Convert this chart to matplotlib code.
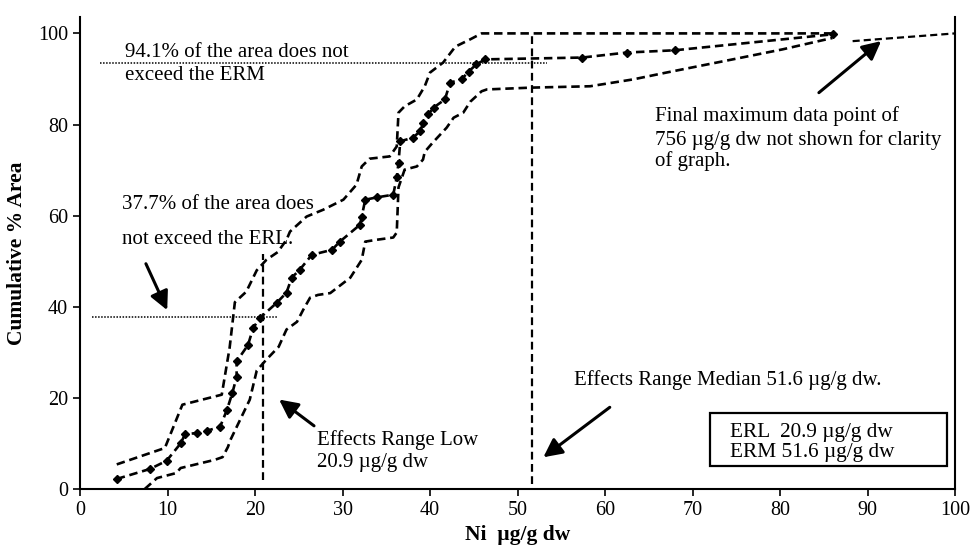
import matplotlib
matplotlib.use("Agg")
from matplotlib import pyplot as plt
from matplotlib.patches import Rectangle

## Cumulative area curve (middle) and its two bounds
mid_x = [4.2, 8.0, 9.9, 11.5, 12.0, 13.4, 14.5, 16.0, 16.8, 17.4, 17.9, 17.9, 19.2, 19.8,
         20.6, 22.5, 23.6, 24.2, 25.1, 26.5, 28.8, 29.7, 32.0, 32.2, 32.6, 33.9, 35.8,
         36.2, 36.4, 36.6, 38.0, 38.9, 39.2, 39.8, 40.4, 41.7, 42.3, 43.6, 44.4, 45.3,
         46.3, 57.4, 62.5, 68.0, 86.0]
mid_y = [2.2, 4.4, 6.2, 10.0, 12.0, 12.3, 12.8, 13.6, 17.4, 21.0, 24.6, 28.0, 31.6, 35.4,
         37.6, 40.9, 43.1, 46.4, 48.1, 51.4, 52.5, 54.3, 58.0, 59.8, 63.5, 64.0, 64.6,
         68.4, 71.6, 76.3, 77.1, 78.5, 80.4, 82.2, 83.7, 85.5, 89.2, 89.9, 91.6, 93.2,
         94.3, 94.7, 95.8, 96.3, 99.8]

up_x = [4.2, 9.7, 11.7, 16.2, 17.1, 17.7, 19.0, 20.2, 21.3, 22.6, 23.6, 24.0, 25.9, 27.8,
        30.1, 31.6, 32.2, 33.1, 35.4, 36.2, 36.4, 37.1, 38.5, 39.4, 40.0, 41.5, 42.9,
        44.6, 45.9, 86.0]
up_y = [5.4, 9.0, 18.5, 20.7, 31.0, 41.0, 43.3, 48.0, 50.3, 52.0, 54.7, 56.5, 59.8, 61.3,
        63.5, 66.8, 70.8, 72.5, 73.0, 75.2, 82.6, 84.0, 85.5, 88.4, 91.4, 93.6, 97.1,
        98.7, 100.0, 100.0]

lo_x = [7.4, 8.8, 11.0, 11.5, 15.4, 16.3, 16.9, 17.2, 19.4, 20.2, 21.3, 22.7, 23.6, 24.8,
        25.5, 26.3, 27.2, 28.6, 30.9, 32.2, 32.6, 33.9, 35.8, 36.2, 36.4, 37.1, 38.5,
        39.2, 39.4, 40.3, 41.9, 42.7, 43.8, 44.6, 45.9, 46.5, 51.6, 58.3, 63.2, 67.0,
        74.6, 80.3, 86.0]
lo_y = [0.0, 2.4, 3.5, 4.6, 6.4, 7.0, 9.2, 10.8, 19.6, 26.0, 28.4, 31.2, 35.0, 36.7,
        39.3, 42.0, 42.6, 43.0, 46.4, 50.3, 54.3, 54.7, 55.2, 56.3, 66.2, 70.1, 70.8,
        72.3, 74.0, 76.0, 79.3, 81.5, 82.6, 85.0, 87.3, 87.7, 88.1, 88.4, 89.9, 91.4,
        94.3, 96.5, 99.0]

## tail toward the 756 ug/g point (off the chart)
tail_x = [88.3, 100.0]
tail_y = [98.3, 100.0]

erl = 20.9
erm = 51.6
erl_pct = 37.7
erm_pct = 93.4

plt.rcParams['font.family'] = ['Liberation Serif', 'DejaVu Serif']

fig = plt.figure(figsize=(9.75, 5.6), dpi=100)
ax = fig.add_axes([80 / 975, 71 / 560, 875 / 975, 472 / 560])

dash = (0, (3.2, 1.8))
ax.plot(up_x, up_y, color='black', lw=1.9, linestyle=dash)
ax.plot(lo_x, lo_y, color='black', lw=1.9, linestyle=dash)
ax.plot(mid_x, mid_y, color='black', lw=1.9, linestyle=dash,
        marker='D', markersize=4.5)
ax.plot(tail_x, tail_y, color='black', lw=1.6, linestyle=dash)

# ERL / ERM guide lines
ax.plot([erl, erl], [2, 51.5], color='black', lw=1.6, linestyle=(0, (3.5, 2)))
ax.plot([erm, erm], [1, 100], color='black', lw=1.6, linestyle=(0, (3.5, 2)))
ax.plot([1.4, 22.6], [erl_pct, erl_pct], color='black', lw=1.1, linestyle=(0, (1, 1)))
ax.plot([2.3, 53.4], [erm_pct, erm_pct], color='black', lw=1.1, linestyle=(0, (1, 1)))

fs = 15
ax.text(5.1, 95.8, '94.1% of the area does not', fontsize=fs, va='center')
ax.text(5.1, 90.8, 'exceed the ERM', fontsize=fs, va='center')
ax.text(4.8, 62.4, '37.7% of the area does', fontsize=fs, va='center')
ax.text(4.8, 54.7, 'not exceed the ERL.', fontsize=fs, va='center')
ax.text(65.7, 81.8, 'Final maximum data point of', fontsize=fs, va='center')
ax.text(65.7, 76.7, '756 µg/g dw not shown for clarity', fontsize=fs, va='center')
ax.text(65.7, 71.9, 'of graph.', fontsize=fs, va='center')
ax.text(56.5, 24.0, 'Effects Range Median 51.6 µg/g dw.', fontsize=fs, va='center')
ax.text(27.1, 10.8, 'Effects Range Low', fontsize=fs, va='center')
ax.text(27.1, 5.9, '20.9 µg/g dw', fontsize=fs, va='center')

arrow = dict(arrowstyle='-|>', color='black', lw=2.2, mutation_scale=28)
ax.annotate('', xy=(10.1, 38.7), xytext=(7.4, 50.0), arrowprops=arrow)
ax.annotate('', xy=(22.5, 20.0), xytext=(27.0, 13.5), arrowprops=arrow)
ax.annotate('', xy=(52.7, 6.6), xytext=(60.8, 18.3), arrowprops=arrow)
ax.annotate('', xy=(91.8, 98.7), xytext=(84.2, 86.6), arrowprops=arrow)

# value box
ax.add_patch(Rectangle((72.0, 5.1), 27.1, 11.6, facecolor='white', edgecolor='black',
                       lw=1.6, zorder=3))
ax.text(74.3, 12.5, 'ERL  20.9 µg/g dw', fontsize=15.3, va='center', zorder=4)
ax.text(74.3, 8.1, 'ERM 51.6 µg/g dw', fontsize=15.3, va='center', zorder=4)

ax.set_xlim(0, 100)
ax.set_ylim(0, 103.6)
ax.set_xticks(range(0, 101, 10))
ax.set_yticks(range(0, 101, 20))
ax.tick_params(labelsize=14.5, length=5, width=1.2, direction='out')
ax.spines['top'].set_visible(False)
for s in ['left', 'bottom', 'right']:
    ax.spines[s].set_linewidth(1.5)

ax.set_xlabel('Ni  µg/g dw', fontsize=15.5, fontweight='bold', labelpad=4)
ax.set_ylabel('Cumulative % Area', fontsize=15.5, fontweight='bold', labelpad=8)

fig.savefig('out.png', dpi=100)
